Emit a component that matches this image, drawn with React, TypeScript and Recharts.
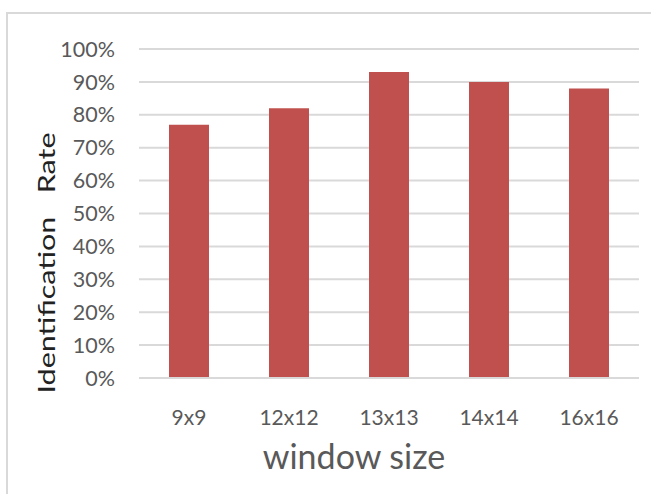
import React from 'react';
import { BarChart, Bar, XAxis, YAxis, CartesianGrid } from 'recharts';

const categories = ['9x9', '12x12', '13x13', '14x14', '16x16'];
const rates = [0.77, 0.82, 0.93, 0.9, 0.88];
const yTicks = [0, 0.1, 0.2, 0.3, 0.4, 0.5, 0.6, 0.7, 0.8, 0.9, 1];
const xTitle = 'window size';
const yTitle = 'Identification   Rate';

const data = categories.map((name, i) => ({ name, rate: rates[i] }));

const FONT = 'Lato, "Open Sans", sans-serif';
const GRID = '#D9D9D9';
const TEXT = '#595959';

export default function App() {
  return (
    <div style={{ position: 'fixed', left: 0, top: 0, width: 651, height: 494, background: '#fff', overflow: 'hidden', fontFamily: FONT }}>
      {/* outer frame, only left and top edges visible */}
      <div style={{ position: 'absolute', left: 6, top: 12, width: 660, height: 500, borderLeft: `2px solid ${GRID}`, borderTop: `2px solid ${GRID}` }} />

      <BarChart width={651} height={494} data={data} margin={{ top: 49, right: 12, bottom: 86, left: 0 }}>
        <CartesianGrid vertical={false} stroke={GRID} strokeWidth={2} />
        <XAxis
          dataKey="name"
          axisLine={{ stroke: GRID, strokeWidth: 2 }}
          tickLine={false}
          tickSize={0}
          tickMargin={32}
          height={30}
          tick={{ fill: TEXT, fontSize: 21, fontFamily: FONT }}
        />
        <YAxis
          width={139}
          domain={[0, 1]}
          ticks={yTicks}
          interval={0}
          axisLine={false}
          tickLine={false}
          tickSize={0}
          tickMargin={24}
          tickFormatter={(v: number) => `${Math.round(v * 100)}%`}
          tick={{ fill: TEXT, fontSize: 21.5, fontFamily: FONT }}
        />
        <Bar dataKey="rate" fill="#C0504D" barSize={40} isAnimationActive={false} />
      </BarChart>

      <div style={{ position: 'absolute', left: 354, top: 456, transform: 'translate(-50%, -50%)', fontSize: 34, color: TEXT, whiteSpace: 'nowrap', lineHeight: 1 }}>
        {xTitle}
      </div>
      <div style={{ position: 'absolute', left: 46, top: 263, transform: 'translate(-50%, -50%) rotate(-90deg) scaleX(1.27)', fontSize: 24, color: '#222', whiteSpace: 'pre', lineHeight: 1 }}>
        {yTitle}
      </div>
    </div>
  );
}
